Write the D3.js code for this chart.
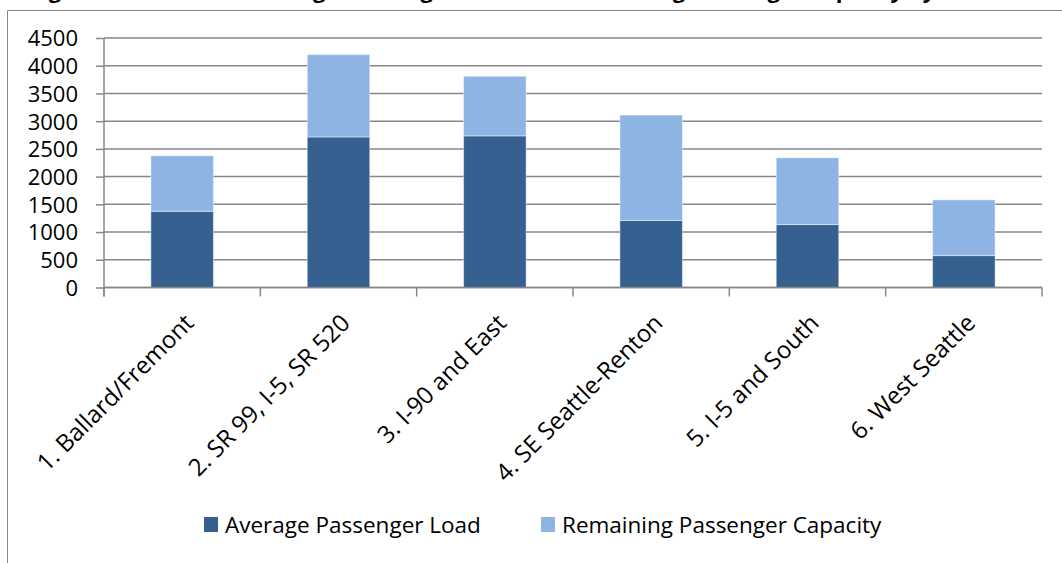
<!DOCTYPE html>
<html>
<head>
<meta charset="utf-8">
<script src="https://cdn.jsdelivr.net/npm/d3@7"></script>
<style>
  html, body { margin: 0; padding: 0; background: #fff; }
  svg { display: block; }
  text { font-family: "Open Sans", "Liberation Sans", sans-serif; fill: #000; }
</style>
</head>
<body>
<svg id="chart" width="1062" height="563"></svg>
<script>
// Corridors and passenger counts (peak period)
const corridors = [
  "1. Ballard/Fremont",
  "2. SR 99, I-5, SR 520",
  "3. I-90 and East",
  "4. SE Seattle-Renton",
  "5. I-5 and South",
  "6. West Seattle"
];
const averageLoad = [1375, 2715, 2735, 1210, 1135, 575];
const remainingCapacity = [1000, 1485, 1075, 1900, 1205, 1005];
const seriesNames = ["Average Passenger Load", "Remaining Passenger Capacity"];
const seriesColors = ["#36608f", "#8eb4e3"];
const yTicks = [0, 500, 1000, 1500, 2000, 2500, 3000, 3500, 4000, 4500];
const titleText = "Figure 4: Peak Hour Average Passenger Load and Remaining Passenger Capacity by Corridor";

const svg = d3.select("#chart");
const gridColor = "#878787";

// Title line, running off the top edge of the page
svg.append("text")
  .attr("x", 30)
  .attr("y", -2)
  .attr("font-weight", "bold")
  .attr("font-size", 22)
  .text(titleText);

// Outer chart frame
svg.append("path")
  .attr("d", "M7.5,570 V10.5 H1070")
  .attr("fill", "none")
  .attr("stroke", gridColor)
  .attr("stroke-width", 1);

const plot = { left: 104, right: 1042, top: 38, bottom: 287.5 };

const x = d3.scaleBand()
  .domain(corridors)
  .range([plot.left, plot.right])
  .paddingInner(0.6)
  .paddingOuter(0.3);

const xOuter = d3.scaleBand()
  .domain(corridors)
  .range([plot.left, plot.right]);

const y = d3.scaleLinear()
  .domain([0, 4500])
  .range([plot.bottom, plot.top]);

// Horizontal gridlines
svg.append("g")
  .selectAll("line")
  .data(yTicks)
  .join("line")
  .attr("x1", plot.left)
  .attr("x2", plot.right)
  .attr("y1", d => y(d))
  .attr("y2", d => y(d))
  .attr("stroke", gridColor)
  .attr("stroke-width", 1.5);

// Stacked bars
const rows = corridors.map((c, i) => ({ corridor: c, load: averageLoad[i], remaining: remainingCapacity[i] }));
const stack = d3.stack().keys(["load", "remaining"]);
const layers = stack(rows);

svg.append("g")
  .selectAll("g")
  .data(layers)
  .join("g")
  .attr("fill", (d, i) => seriesColors[i])
  .selectAll("rect")
  .data(d => d)
  .join("rect")
  .attr("x", d => x(d.data.corridor))
  .attr("width", x.bandwidth())
  .attr("y", d => y(d[1]))
  .attr("height", d => y(d[0]) - y(d[1]))
  .attr("stroke", "rgba(255,255,255,0.45)")
  .attr("stroke-width", 1);

// Y axis
const yAxis = d3.axisLeft(y)
  .tickValues(yTicks)
  .tickSize(8)
  .tickPadding(18)
  .tickFormat(d3.format("d"));

const yg = svg.append("g")
  .attr("transform", `translate(${plot.left},0)`)
  .call(yAxis);
yg.select(".domain").remove();
yg.selectAll(".tick line").attr("stroke", gridColor).attr("stroke-width", 1.5);
yg.selectAll(".tick text")
  .attr("font-size", 22)
  .attr("font-family", "Open Sans")
  .attr("dy", "0.36em");

svg.append("line")
  .attr("x1", plot.left).attr("x2", plot.left)
  .attr("y1", plot.top).attr("y2", plot.bottom + 9)
  .attr("stroke", gridColor)
  .attr("stroke-width", 1.5);

// X axis: baseline, boundary ticks and rotated labels
svg.append("line")
  .attr("x1", plot.left).attr("x2", plot.right)
  .attr("y1", plot.bottom).attr("y2", plot.bottom)
  .attr("stroke", gridColor)
  .attr("stroke-width", 1.5);

const boundaries = corridors.map(c => xOuter(c)).concat([plot.right]);
svg.append("g")
  .selectAll("line")
  .data(boundaries)
  .join("line")
  .attr("x1", d => d).attr("x2", d => d)
  .attr("y1", plot.bottom).attr("y2", plot.bottom + 9)
  .attr("stroke", gridColor)
  .attr("stroke-width", 1.5);

svg.append("g")
  .selectAll("text")
  .data(corridors)
  .join("text")
  .attr("transform", d => `translate(${xOuter(d) + xOuter.bandwidth() / 2 + 13},${plot.bottom + 37}) rotate(-45)`)
  .attr("text-anchor", "end")
  .attr("font-size", 24)
  .text(d => d);

// Legend
const legendItems = [
  { name: seriesNames[0], color: seriesColors[0], x: 204 },
  { name: seriesNames[1], color: seriesColors[1], x: 541 }
];
const lg = svg.append("g");
lg.selectAll("rect")
  .data(legendItems)
  .join("rect")
  .attr("x", d => d.x)
  .attr("y", 517)
  .attr("width", 14)
  .attr("height", 15)
  .attr("fill", d => d.color);
lg.selectAll("text")
  .data(legendItems)
  .join("text")
  .attr("x", d => d.x + 21)
  .attr("y", 533)
  .attr("font-size", 22.5)
  .text(d => d.name);
</script>
</body>
</html>
